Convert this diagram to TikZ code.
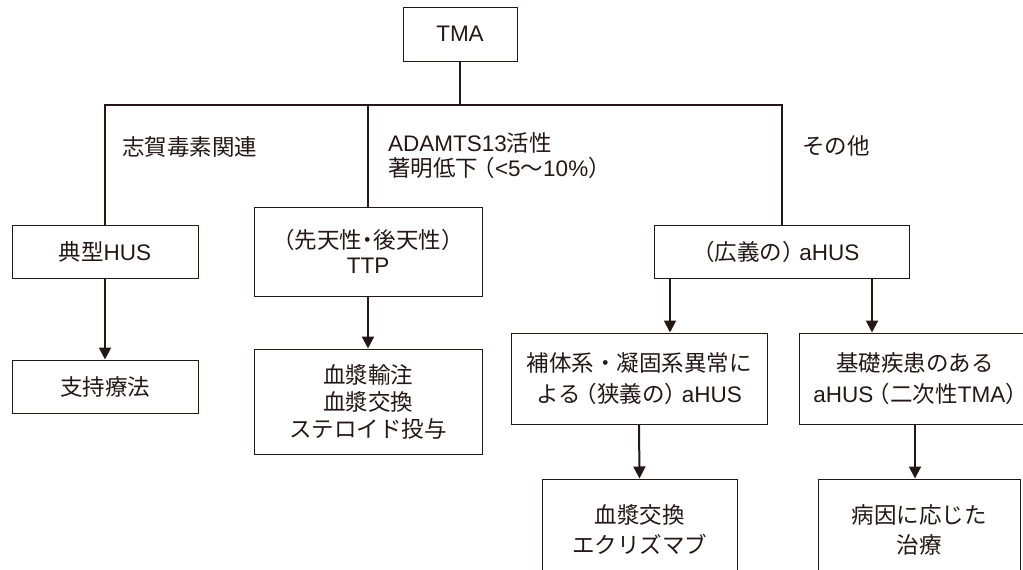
\documentclass[tikz,border=0pt]{standalone}
\usepackage{fontspec}
\setmainfont{Noto Sans CJK JP}
\newfontfamily\lat{Liberation Sans}
\newfontfamily\hw[RawFeature=+halt]{Noto Sans CJK JP}
\newcommand\opp{\hspace{0.25em}{\hw （}}
\newcommand\clp{{\hw ）}\hspace{0.25em}}
\newcommand\mdot{{\hw ・}}
\usetikzlibrary{arrows.meta}
\definecolor{ink}{RGB}{35,24,21}
\begin{document}
\begin{tikzpicture}[x=1pt,y=-1pt,
  box/.style={draw=ink, line width=1pt, align=center, inner sep=0pt, text=ink,
    font=\fontsize{22.5}{28}\selectfont},
  conn/.style={draw=ink, line width=2pt},
  arr/.style={conn, -{Triangle[width=12pt,length=12pt]}},
  lbl/.style={anchor=west, align=left, inner sep=0pt, text=ink,
    font=\fontsize{22.5}{25}\selectfont}]
\useasboundingbox (0,0) rectangle (1023,570);
\clip (0,0) rectangle (1023,570);
% boxes
\node[box, minimum width=114pt, minimum height=54pt] (tma) at (460,34) {\lat TMA};
\node[box, minimum width=186pt, minimum height=53pt] (hus) at (105,251.5) {典型{\lat HUS}};
\node[box, minimum width=186pt, minimum height=53pt] (sup) at (105,386.5) {支持療法};
\node[box, minimum width=228pt, minimum height=89pt, font=\fontsize{22.5}{25}\selectfont] (ttp) at (368,251.5) {{\hw （}先天性\mdot 後天性{\hw ）}\\{\lat TTP}};
\node[box, minimum width=228pt, minimum height=105pt, font=\fontsize{22.5}{27}\selectfont] (ttpt) at (368,401.5) {血漿輸注\\血漿交換\\ステロイド投与};
\node[box, minimum width=255pt, minimum height=53pt] (ahus) at (781.5,251.5) {{\hw （}広義の\clp{\lat aHUS}};
\node[box, minimum width=256pt, minimum height=91pt, font=\fontsize{22.5}{31}\selectfont] (comp) at (639,378.5) {補体系・凝固系異常に\\よる\opp 狭義の\clp{\lat aHUS}};
\node[box, minimum width=232pt, minimum height=91pt, font=\fontsize{22.5}{31}\selectfont] (sec) at (915,378.5) {基礎疾患のある\\{\lat aHUS}\opp 二次性{\lat TMA}{\hw ）}};
\node[box, minimum width=195pt, minimum height=102pt, font=\fontsize{22.5}{30}\selectfont] (pe) at (639.5,530) {血漿交換\\エクリズマブ};
\node[box, minimum width=202pt, minimum height=102pt, font=\fontsize{22.5}{30}\selectfont] (cause) at (919,530) {病因に応じた\\治療};
% labels
\node[lbl] (l1) at (122,147) {志賀毒素関連};
\node[lbl] (l2) at (388,156) {{\lat ADAMTS13}活性\\著明低下\opp{\lat <5}〜{\lat 10\%}{\hw ）}};
\node[lbl] (l3) at (802,146) {その他};
% connectors
\coordinate (bar) at (460,105);
\draw[conn] (tma.south) -- (bar);
\draw[conn, line join=miter] (hus.north) -- (hus.north |- bar) -- (ahus.north |- bar) -- (ahus.north);
\draw[conn] (ttp.north) -- (ttp.north |- bar);
\draw[arr] (hus.south) -- (sup.north);
\draw[arr] (ttp.south) -- (ttpt.north);
\coordinate (a1) at ([xshift=-111.5pt]ahus.south);
\coordinate (a2) at ([xshift=90.5pt]ahus.south);
\draw[arr] (a1) -- (a1 |- comp.north);
\draw[arr] (a2) -- (a2 |- sec.north);
\draw[arr] (comp.south) -- (pe.north);
\draw[arr] (sec.south) -- (sec.south |- cause.north);
\end{tikzpicture}
\end{document}
